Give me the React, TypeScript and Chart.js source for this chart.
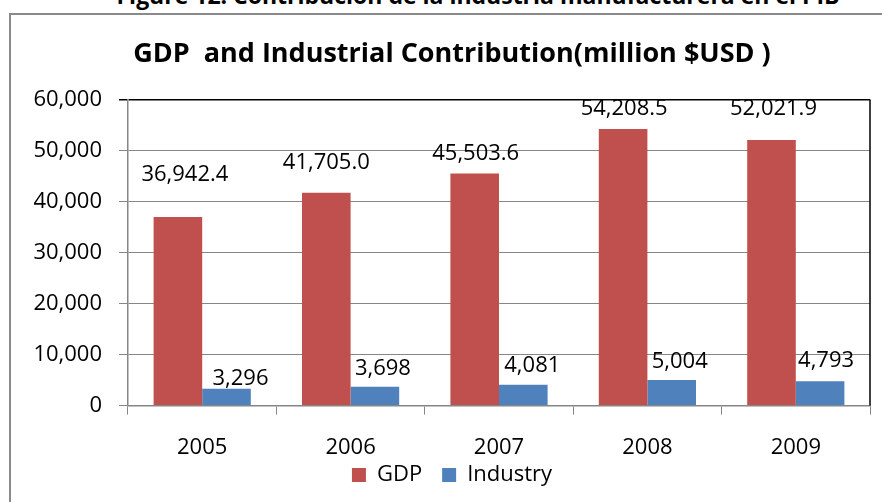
import React, { useEffect, useRef } from "react";
import { Chart, registerables } from "chart.js";

Chart.register(...registerables);

const years = ["2005", "2006", "2007", "2008", "2009"];
const gdpValues = [36942.4, 41705.0, 45503.6, 54208.5, 52021.9];
const industryValues = [3296, 3698, 4081, 5004, 4793];
const yTickValues = [0, 10000, 20000, 30000, 40000, 50000, 60000];

const chartTitle = "GDP  and Industrial Contribution(million $USD )";
const figureCaption = "Figure 12: Contribución de la industria manufacturera en el PIB";

// label placement (style only): horizontal shift and lift above bar top, in px
const gdpLabelPlacement = [
  { dx: 7, lift: 44 },
  { dx: 0, lift: 32 },
  { dx: 1, lift: 21 },
  { dx: 1, lift: 22 },
  { dx: 2, lift: 33 },
];
const industryLabelPlacement = [
  { dx: 14, lift: 12 },
  { dx: 8, lift: 20 },
  { dx: 9, lift: 21 },
  { dx: 8, lift: 20 },
  { dx: 6, lift: 22 },
];

const FONT = '"Open Sans", "DejaVu Sans", sans-serif';
const GRID = "#868686";
const LEGEND_LIFT = 37;

const fmtGdp = (v: number) =>
  v.toLocaleString("en-US", { minimumFractionDigits: 1, maximumFractionDigits: 1 });
const fmtInd = (v: number) => v.toLocaleString("en-US", { maximumFractionDigits: 0 });

const barLabels = {
  id: "barLabels",
  afterDatasetsDraw(chart: any) {
    const ctx = chart.ctx;
    ctx.save();
    ctx.font = `22px ${FONT}`;
    ctx.fillStyle = "#000";
    ctx.textAlign = "center";
    ctx.textBaseline = "alphabetic";
    chart.data.datasets.forEach((ds: any, di: number) => {
      const meta = chart.getDatasetMeta(di);
      const place = di === 0 ? gdpLabelPlacement : industryLabelPlacement;
      const fmt = di === 0 ? fmtGdp : fmtInd;
      meta.data.forEach((bar: any, i: number) => {
        const p = place[i];
        ctx.fillText(fmt(ds.data[i]), bar.x + p.dx, bar.y - p.lift + 8);
      });
    });
    ctx.restore();
  },
};

const plotBorder = {
  id: "plotBorder",
  afterLayout(chart: any) {
    const lg = chart.legend;
    if (lg) {
      lg.top -= LEGEND_LIFT;
      lg.bottom -= LEGEND_LIFT;
    }
  },
  afterDraw(chart: any) {
    const { ctx, chartArea } = chart;
    ctx.save();
    ctx.strokeStyle = "#000";
    ctx.lineWidth = 1.5;
    ctx.beginPath();
    ctx.moveTo(chartArea.right, chartArea.top);
    ctx.lineTo(chartArea.right, chartArea.bottom);
    ctx.stroke();
    ctx.restore();
  },
};

export default function App() {
  const ref = useRef<HTMLCanvasElement | null>(null);

  useEffect(() => {
    if (!ref.current) return;
    const chart = new Chart(ref.current, {
      type: "bar",
      data: {
        labels: years,
        datasets: [
          {
            label: "GDP",
            data: gdpValues,
            backgroundColor: "#C0504D",
            borderWidth: 0,
            categoryPercentage: 0.655,
            barPercentage: 1,
          },
          {
            label: "Industry",
            data: industryValues,
            backgroundColor: "#4F81BD",
            borderWidth: 0,
            categoryPercentage: 0.655,
            barPercentage: 1,
          },
        ],
      },
      options: {
        responsive: false,
        animation: false,
        layout: { padding: { left: 24, right: 28, top: 0, bottom: 0 } },
        plugins: {
          title: {
            display: true,
            text: chartTitle,
            color: "#000",
            font: { family: FONT, size: 27, weight: "bold" },
            padding: { top: 38, bottom: 29 },
          },
          legend: {
            position: "bottom",
            labels: {
              boxWidth: 14,
              boxHeight: 14,
              color: "#000",
              font: { family: FONT, size: 22 },
              padding: 20,
            },
          },
          tooltip: { enabled: false },
        },
        scales: {
          x: {
            grid: {
              offset: true,
              drawOnChartArea: false,
              drawTicks: true,
              tickLength: 9,
              color: GRID,
            },
            border: { color: GRID, width: 1.5 },
            ticks: { color: "#000", font: { family: FONT, size: 22 }, padding: 20 },
          },
          y: {
            min: 0,
            max: 60000,
            afterBuildTicks: (s: any) => {
              s.ticks = yTickValues.map((v) => ({ value: v }));
            },
            grid: {
              color: (c: any) => (c.tick && c.tick.value === 60000 ? "#000" : GRID),
              lineWidth: (c: any) => (c.tick && c.tick.value === 60000 ? 1.5 : 1),
              tickLength: 9,
              drawTicks: true,
            },
            border: { color: GRID, width: 1.5 },
            ticks: {
              color: "#000",
              font: { family: FONT, size: 22 },
              padding: 17,
              callback: (v: any) => Number(v).toLocaleString("en-US"),
            },
            afterFit: (s: any) => {
              s.width = 94;
            },
          },
        },
      },
      plugins: [barLabels, plotBorder],
    });
    return () => chart.destroy();
  }, []);

  return (
    <div
      style={{
        position: "fixed",
        left: 0,
        top: 0,
        width: 882,
        height: 502,
        overflow: "hidden",
        background: "#fff",
      }}
    >
      <div
        style={{
          position: "absolute",
          left: 0,
          width: 956,
          top: -16,
          textAlign: "center",
          fontFamily: FONT,
          fontWeight: "bold",
          fontSize: 23,
          lineHeight: "23px",
          color: "#000",
          whiteSpace: "nowrap",
        }}
      >
        {figureCaption}
      </div>
      <div
        style={{
          position: "absolute",
          left: 9,
          top: 13,
          width: 900,
          height: 600,
          borderLeft: "2px solid #8a8a8a",
          borderTop: "2px solid #8a8a8a",
        }}
      />
      <canvas
        ref={ref}
        width={888}
        height={533}
        style={{ position: "absolute", left: 10, top: 0, width: 888, height: 533 }}
      />
    </div>
  );
}
